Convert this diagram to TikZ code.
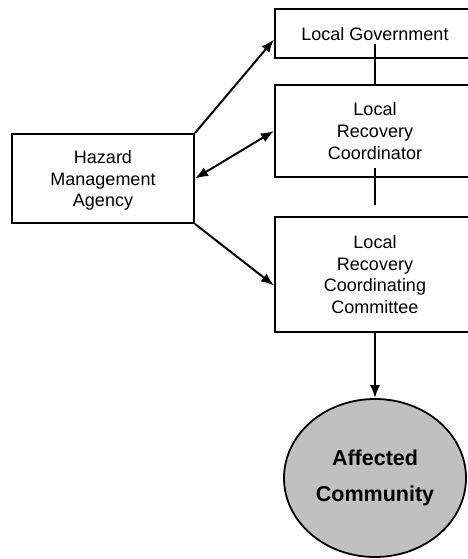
\documentclass[tikz,border=0pt]{standalone}
\usepackage{fontspec}
\setmainfont{Liberation Sans}
\usetikzlibrary{arrows.meta,shapes.geometric}
\begin{document}
\begin{tikzpicture}[x=1pt,y=-1pt, font=\fontsize{18}{21.7}\selectfont,
  box/.style={draw, line width=2pt, align=center, inner sep=0pt, text depth=-10pt},
  arr/.style={line width=2pt, -{Latex[length=13pt,width=10pt]}}]
\useasboundingbox[fill=white] (0,0) rectangle (467,559);
\node[box, minimum width=182, minimum height=89] (hma) at (103,178.5){Hazard\\Management\\Agency};
\node[box, minimum width=200, minimum height=49] (lg) at (375,33.5){Local Government};
\node[box, minimum width=200, minimum height=92] (lrc) at (375,131){Local\\Recovery\\Coordinator};
\node[box, minimum width=200, minimum height=115] (lrcc) at (375,274.5){Local\\Recovery\\Coordinating\\Committee};
\node[ellipse, draw, line width=1.8pt, fill={rgb,255:red,192;green,192;blue,192}, minimum width=182, minimum height=158, align=center, font=\fontsize{21.5}{36}\selectfont\bfseries] (ac) at (375,478){Affected\\Community};
\draw[line width=2pt] ([yshift=15pt]lg.south) -- (lrc.north);
\draw[line width=2pt] ([yshift=10pt]lrc.south) -- ([yshift=11pt]lrcc.north);
\draw[arr] (hma.north east) -- ([yshift=-6pt]lg.west);
\draw[arr, {Latex[length=13pt,width=10pt]}-{Latex[length=13pt,width=10pt]}] (hma.east) -- (lrc.west);
\draw[arr] (hma.south east) -- ([yshift=-11pt]lrcc.west);
\draw[arr] (lrcc.south) -- (ac.north);
\end{tikzpicture}
\end{document}
